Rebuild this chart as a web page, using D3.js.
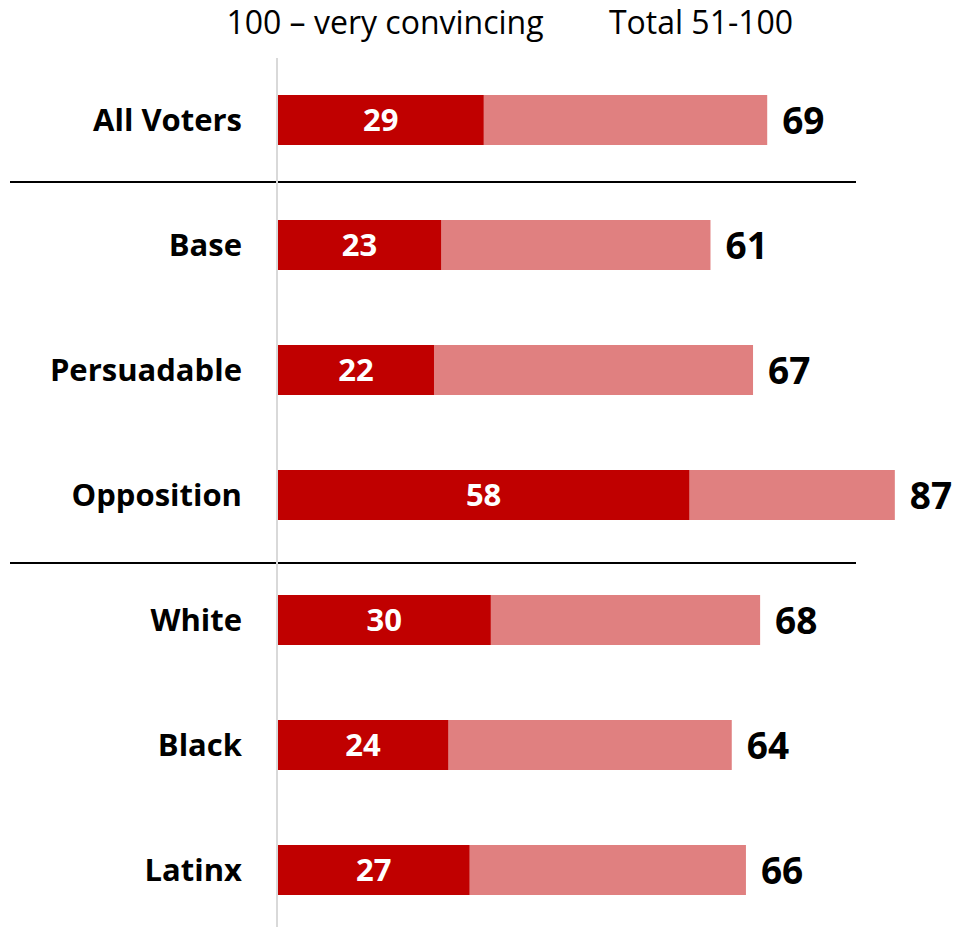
<!DOCTYPE html>
<html><head><meta charset="utf-8">
<script src="https://cdn.jsdelivr.net/npm/d3@7"></script>
<style>body{margin:0;background:#fff;}svg{display:block;}</style>
</head><body>
<svg id="chart" width="954" height="927"></svg>
<script>
const categories = ["All Voters","Base","Persuadable","Opposition","White","Black","Latinx"];
const veryConvincing = [29,23,22,58,30,24,27];
const total = [69,61,67,87,68,64,66];
const headers = ["100 \u2013 very convincing","Total 51-100"];
const separatorsAfter = ["All Voters","Opposition"];

const font = "'Open Sans', Lato, sans-serif";
const svg = d3.select("#chart");
const x = d3.scaleLinear().domain([0,100]).range([278, 278+709]);
const y = d3.scaleBand().domain(categories).range([57.5, 932.5]).paddingInner(0.6).paddingOuter(0.3);

// header
svg.append("text").attr("x",385).attr("y",34).attr("text-anchor","middle")
  .attr("font-family",font).attr("font-size",32).attr("fill","#000").text(headers[0]);
svg.append("text").attr("x",701).attr("y",34).attr("text-anchor","middle")
  .attr("font-family",font).attr("font-size",32).attr("fill","#000").text(headers[1]);

// separators
separatorsAfter.forEach(c=>{
  const i = categories.indexOf(c);
  const yy = (y(categories[i]) + y.bandwidth() + y(categories[i+1]))/2 + (i===0? -0.5 : 5.5);
  svg.append("line").attr("x1",10).attr("x2",856).attr("y1",yy).attr("y2",yy)
    .attr("stroke","#000").attr("stroke-width",2);
});

const rows = svg.selectAll("g.row").data(categories).join("g").attr("class","row");
rows.append("rect").attr("x",x(0)).attr("y",d=>y(d)).attr("height",y.bandwidth())
  .attr("width",(d,i)=>x(total[i])-x(0)).attr("fill","#E08080");
rows.append("rect").attr("x",x(0)).attr("y",d=>y(d)).attr("height",y.bandwidth())
  .attr("width",(d,i)=>x(veryConvincing[i])-x(0)).attr("fill","#C00000");
rows.append("text").attr("x",(d,i)=>(x(0)+x(veryConvincing[i]))/2)
  .attr("y",d=>y(d)+y.bandwidth()/2).attr("dy","0.36em").attr("text-anchor","middle")
  .attr("font-family",font).attr("font-weight","bold").attr("font-size",31).attr("fill","#fff")
  .text((d,i)=>veryConvincing[i]);
rows.append("text").attr("x",(d,i)=>x(total[i])+15)
  .attr("y",d=>y(d)+y.bandwidth()/2).attr("dy","0.38em")
  .attr("font-family",font).attr("font-weight","bold").attr("font-size",37).attr("fill","#000")
  .text((d,i)=>total[i]);
rows.append("text").attr("x",242).attr("y",d=>y(d)+y.bandwidth()/2).attr("dy","0.36em")
  .attr("text-anchor","end").attr("font-family",font).attr("font-weight","bold")
  .attr("font-size",31).attr("fill","#000").text(d=>d);

// axis line
svg.append("line").attr("x1",x(0)-1).attr("x2",x(0)-1).attr("y1",58).attr("y2",927)
  .attr("stroke","#D9D9D9").attr("stroke-width",2);
</script>
</body></html>
